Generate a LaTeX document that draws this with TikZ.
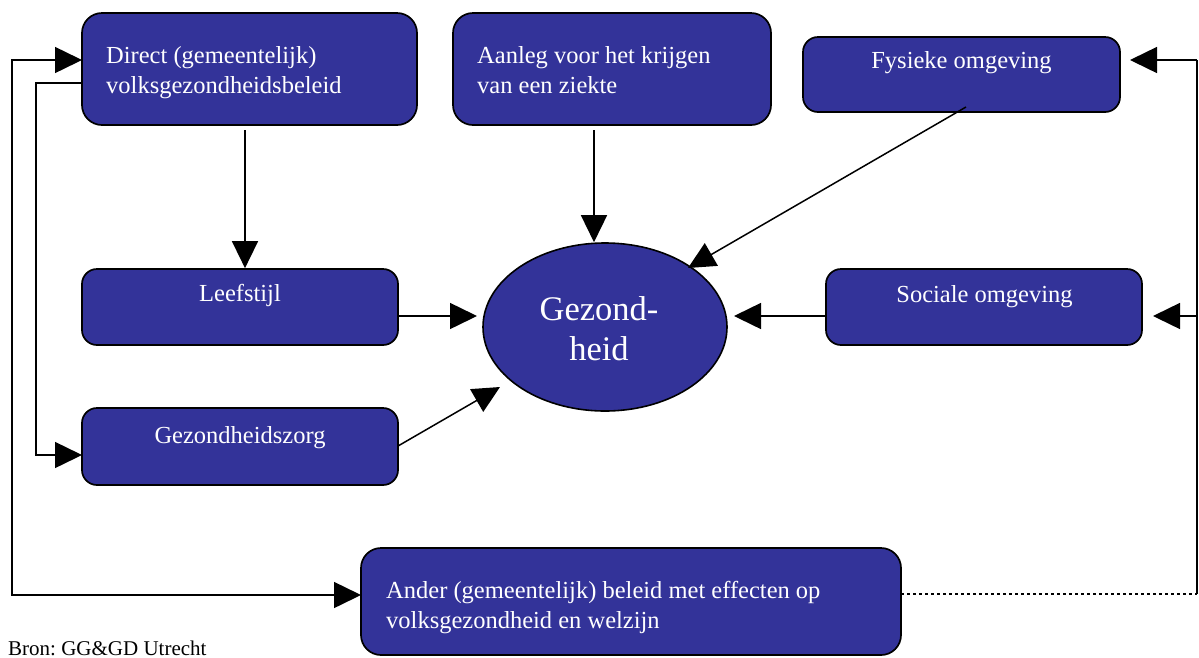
\documentclass[tikz,border=0pt]{standalone}
\usepackage{fontspec}
\setmainfont{Liberation Serif}
\usetikzlibrary{arrows.meta,shapes.geometric}
\definecolor{boxblue}{HTML}{333399}
\frenchspacing
\tikzset{
  box/.style={draw=black, line width=1.7pt, fill=boxblue, rounded corners=20pt, inner sep=0pt},
  sbox/.style={box, rounded corners=15pt},
  lbl/.style={text=white, inner sep=0pt, font=\fontsize{24.5}{30}\selectfont},
  lblL/.style={lbl, align=left, anchor=base west},
  lblC/.style={lbl, align=center, anchor=base},
  conn/.style={line width=1.5pt, draw=black},
  arr/.style={conn, -{Triangle[length=27pt,width=26pt]}},
  darr/.style={conn, {Triangle[length=27pt,width=26pt]}-{Triangle[length=27pt,width=26pt]}},
}
\begin{document}
\begin{tikzpicture}[x=1pt,y=-1pt]
\useasboundingbox (0,0) rectangle (1199,657);
% boxes
\node[box, minimum width=335pt, minimum height=112pt] (A) at (249.5,69) {};
\node[box, minimum width=318pt, minimum height=112pt] (B) at (612,69) {};
\node[sbox, minimum width=317pt, minimum height=75pt] (C) at (961.5,74.5) {};
\node[sbox, minimum width=316pt, minimum height=76pt] (D) at (240,307) {};
\node[sbox, minimum width=316pt, minimum height=76pt] (E) at (984,307) {};
\node[sbox, minimum width=316pt, minimum height=77pt] (F) at (240,446.5) {};
\node[box, minimum width=540pt, minimum height=107pt] (G) at (631,601.5) {};
\node[ellipse, draw=black, line width=1.6pt, fill=boxblue, minimum width=244pt, minimum height=168pt, inner sep=0pt] (H) at (605,327) {};
% texts (base anchor = baseline of last line)
\node[lblL] (tA) at (106,93) {Direct (gemeentelijk)\\volksgezondheidsbeleid};
\node[lblL] (tB) at (477,93.3) {Aanleg voor het krijgen\\van een ziekte};
\node[lblC] (tC) at (961.5,68.3) {Fysieke omgeving};
\node[lblC] (tD) at (240,301.7) {Leefstijl};
\node[lblC] (tE) at (984.5,302) {Sociale omgeving};
\node[lblC] (tF) at (240,443) {Gezondheidszorg};
\node[lblL] (tG) at (386,628.3) {Ander (gemeentelijk) beleid met effecten op\\volksgezondheid en welzijn};
\node[lbl, align=center, anchor=base, font=\fontsize{34.5}{40}\selectfont] (tH) at (599,360) {Gezond-\\heid};
\node[inner sep=0pt, anchor=base west, font=\fontsize{21}{24}\selectfont] (src) at (8,655) {Bron: GG\&GD Utrecht};
% coordinates
\coordinate (a1) at (245,130);
\coordinate (b1) at (594,130);
\coordinate (c1) at (966,107);
\coordinate (h1) at (688,268);
\coordinate (d1) at (398,316);
\coordinate (h2) at (477,316);
\coordinate (e1) at (826,316);
\coordinate (h3) at (734,316);
\coordinate (f1) at (398,446);
\coordinate (h4) at (500,387);
\coordinate (aL) at (82,60);
\coordinate (gL) at (361,595);
\coordinate (L1) at (12,60);
\coordinate (L2) at (12,595);
\coordinate (aL2) at (82,83);
\coordinate (M1) at (36,83);
\coordinate (M2) at (36,455);
\coordinate (fL) at (82,455);
\coordinate (gR) at (901,594);
\coordinate (R1) at (1197,594);
\coordinate (R2) at (1197,60);
\coordinate (R3) at (1197,316);
\coordinate (cR) at (1130,60);
\coordinate (eR) at (1153,316);
% connectors
\draw[arr] (a1) -- (a1 |- D.north);
\draw[arr] (b1) -- (b1 |- H.north);
\draw[arr] (c1) -- (h1);
\draw[arr] (d1) -- (h2);
\draw[arr] (e1) -- (h3);
\draw[arr] (f1) -- (h4);
\draw[darr] (aL) -- (L1) -- (L2) -- (gL);
\draw[arr] (aL2) -- (M1) -- (M2) -- (fL);
\draw[conn, line width=1.3pt, dash pattern=on 3pt off 3pt] (gR) -- (R1);
\draw[conn] (R1) -- (R2);
\draw[arr] (R2) -- (cR);
\draw[arr] (R3) -- (eR);
\end{tikzpicture}
\end{document}
